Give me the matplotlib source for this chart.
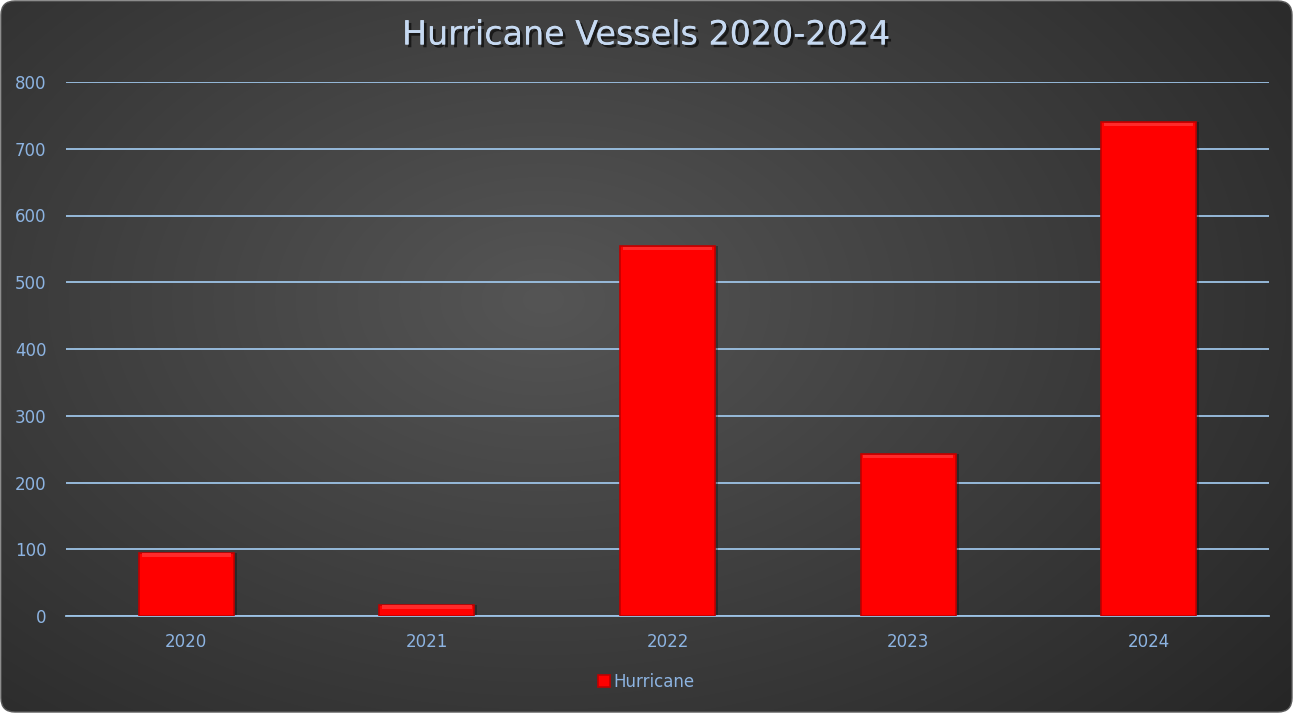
import numpy as np
import matplotlib
matplotlib.use("Agg")
import matplotlib.pyplot as plt
from matplotlib.patches import FancyBboxPatch
import matplotlib.patheffects as pe

years = ["2020", "2021", "2022", "2023", "2024"]
hurricane = [95, 17, 554, 242, 740]
yticks = [0, 100, 200, 300, 400, 500, 600, 700, 800]

W, H = 1293, 713
fig = plt.figure(figsize=(W / 100, H / 100), dpi=100)
fig.patch.set_facecolor("white")

# background radial gradient
bg = fig.add_axes([0, 0, 1, 1])
bg.set_axis_off()
yy, xx = np.mgrid[0:H, 0:W]
cx, cy = W * 0.42, H * 0.42
r = np.sqrt(((xx - cx) / (W * 0.75)) ** 2 + ((yy - cy) / (H * 0.9)) ** 2)
r = np.clip(r, 0, 1)
inner = np.array([0x55, 0x55, 0x55]) / 255
outer = np.array([0x26, 0x26, 0x26]) / 255
img = inner[None, None, :] * (1 - r[..., None]) + outer[None, None, :] * r[..., None]
im = bg.imshow(img, extent=[0, W, H, 0], aspect="auto", zorder=0)
bg.set_xlim(0, W)
bg.set_ylim(H, 0)
clip = FancyBboxPatch((1, 1), W - 2, H - 2, boxstyle="round,pad=0,rounding_size=14",
                      transform=bg.transData, facecolor="none", edgecolor="#5a5a5a", lw=1.0)
bg.add_patch(clip)
im.set_clip_path(clip)

text_c = "#8DB4E2"
grid_c = "#9DC3E6"

ax = fig.add_axes([66 / W, 1 - 616 / H, (1269 - 66) / W, (616 - 82) / H])
ax.set_facecolor("none")
x = np.arange(len(years))
ax.bar(x + 0.012, hurricane, width=0.395, color="#000000", alpha=0.3, zorder=2)
bars = ax.bar(x, hurricane, width=0.395, color="#FF0000", edgecolor="#C00000",
              linewidth=1.2, zorder=3, label="Hurricane")
# subtle bevel highlight on top
for xi, v in zip(x, hurricane):
    hh = min(4 / 0.6675, v * 0.4)
    ax.fill_between([xi - 0.395 / 2 + 0.012, xi + 0.395 / 2 - 0.012], v - hh, v - 0.8,
                    color="#FF2a2a", zorder=4, lw=0)

ax.set_xlim(-0.5, 4.5)
ax.set_ylim(0, 800)
ax.set_yticks(yticks)
ax.set_xticks(x)
ax.set_xticklabels(years)
ax.yaxis.grid(True, color=grid_c, lw=1.3, zorder=1)
ax.set_axisbelow(True)
for s in ["top", "right", "left"]:
    ax.spines[s].set_visible(False)
ax.spines["bottom"].set_color(grid_c)
ax.spines["bottom"].set_linewidth(1.3)
ax.tick_params(axis="both", length=0, colors=text_c, labelsize=12)
ax.tick_params(axis="x", pad=12)
ax.tick_params(axis="y", pad=14)
for lab in ax.get_yticklabels():
    lab.set_horizontalalignment("right")

fig.text(0.5, 1 - 35 / H, "Hurricane Vessels 2020-2024", ha="center", va="center",
         color="#C6D9F1", fontsize=24,
         path_effects=[pe.withSimplePatchShadow(offset=(2, -2), shadow_rgbFace="black", alpha=0.6),
                       pe.Normal()])

leg = fig.legend(handles=[bars], labels=["Hurricane"], loc="center",
                 bbox_to_anchor=(0.5, 1 - 682 / H), frameon=False, fontsize=12,
                 handlelength=0.7, handleheight=0.7, handletextpad=0.2, labelcolor=text_c)

fig.savefig("out.png", dpi=100)
